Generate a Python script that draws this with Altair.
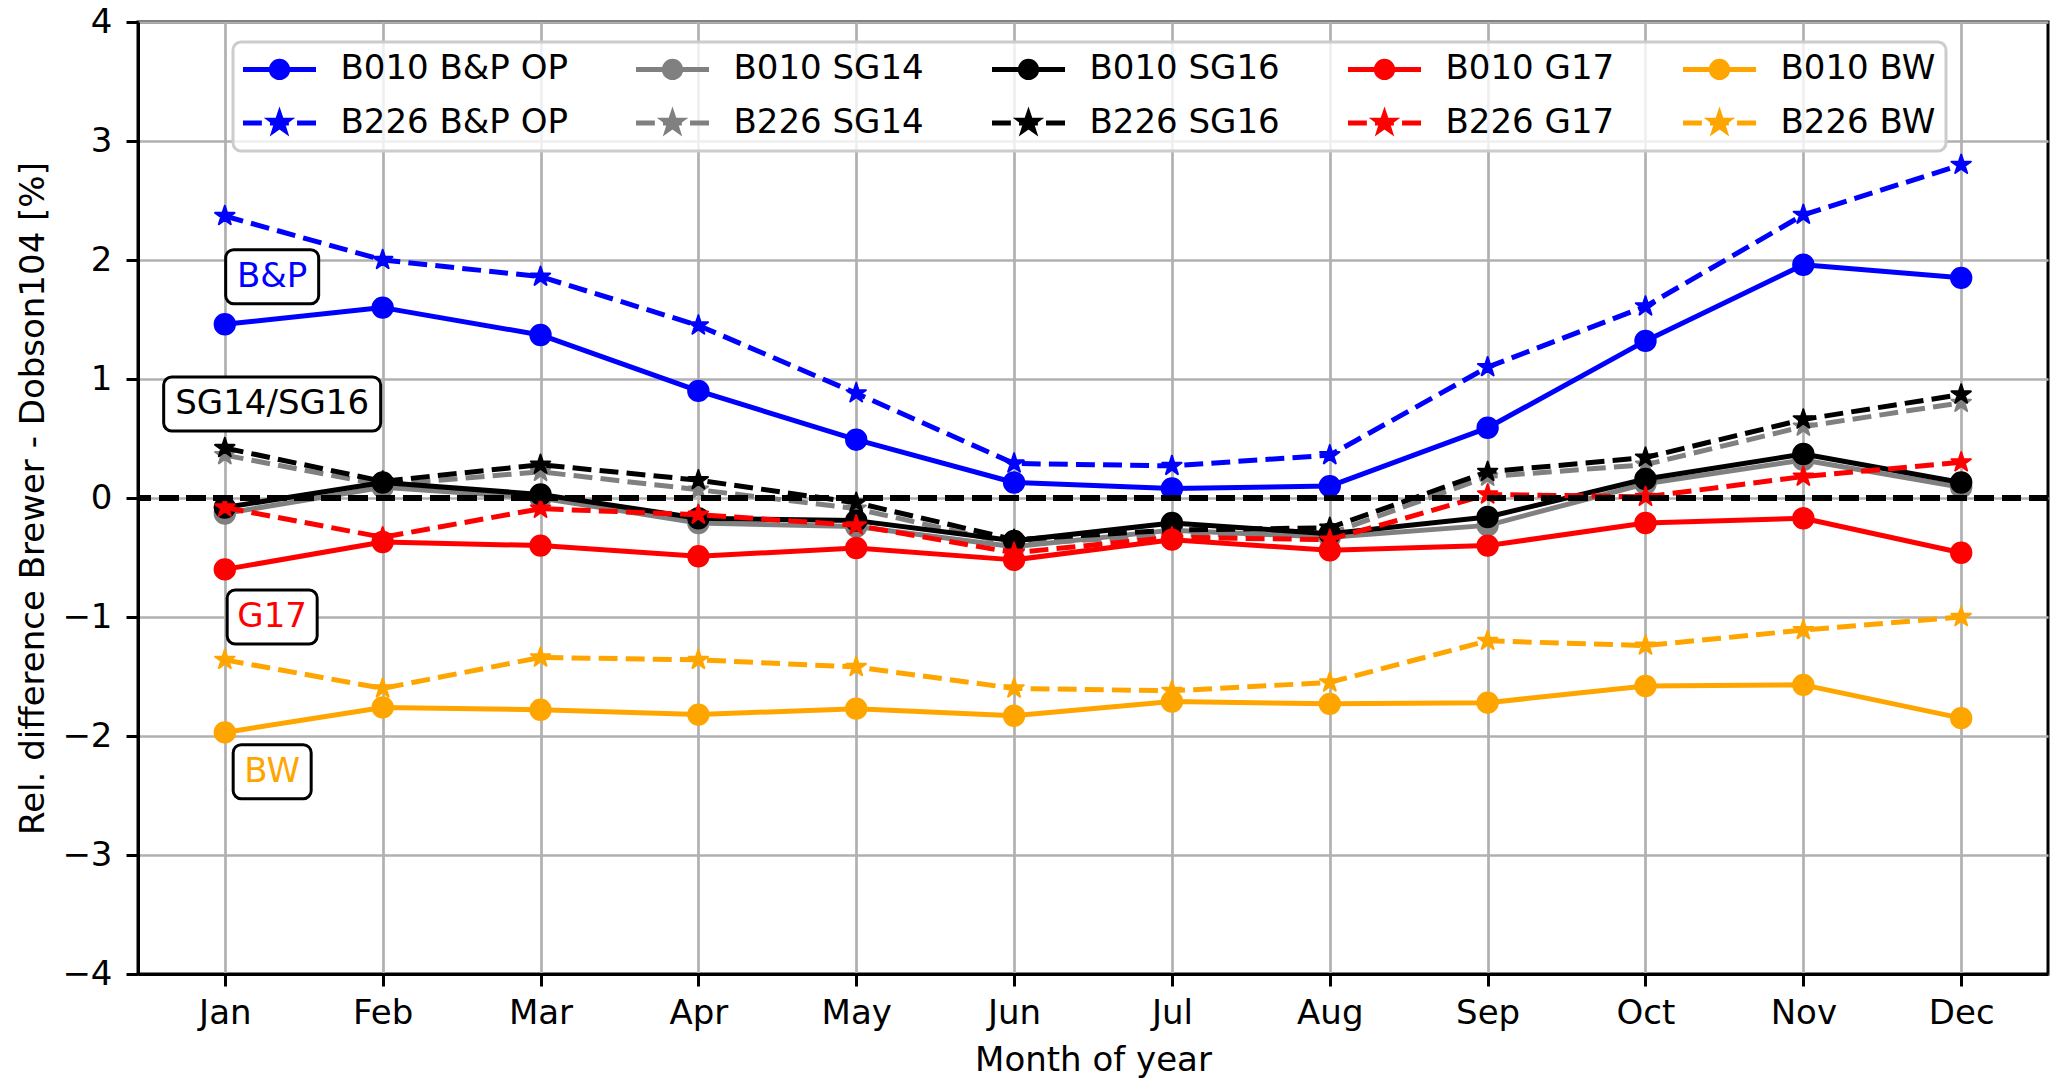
import math

import altair as alt
import pandas as pd

# --- data ---
months = ["Jan", "Feb", "Mar", "Apr", "May", "Jun",
          "Jul", "Aug", "Sep", "Oct", "Nov", "Dec"]
month_num = list(range(1, 13))

b010_bp = [1.46, 1.60, 1.37, 0.90, 0.49, 0.13, 0.08, 0.10, 0.59, 1.32, 1.96, 1.85]
b226_bp = [2.37, 2.00, 1.86, 1.45, 0.88, 0.29, 0.27, 0.36, 1.10, 1.61, 2.38, 2.80]
b010_sg14 = [-0.13, 0.09, 0.00, -0.21, -0.24, -0.41, -0.27, -0.33, -0.23, 0.12, 0.32, 0.09]
b226_sg14 = [0.36, 0.11, 0.22, 0.07, -0.09, -0.39, -0.31, -0.30, 0.18, 0.28, 0.60, 0.80]
b010_sg16 = [-0.08, 0.13, 0.03, -0.17, -0.19, -0.36, -0.21, -0.30, -0.16, 0.16, 0.37, 0.13]
b226_sg16 = [0.42, 0.14, 0.28, 0.15, -0.04, -0.35, -0.27, -0.25, 0.22, 0.34, 0.66, 0.87]
b010_g17 = [-0.60, -0.37, -0.40, -0.49, -0.42, -0.52, -0.35, -0.44, -0.40, -0.21, -0.17, -0.46]
b226_g17 = [-0.08, -0.33, -0.09, -0.14, -0.23, -0.46, -0.33, -0.35, 0.03, 0.01, 0.18, 0.30]
b010_bw = [-1.97, -1.76, -1.78, -1.82, -1.77, -1.83, -1.71, -1.73, -1.72, -1.58, -1.57, -1.85]
b226_bw = [-1.36, -1.60, -1.34, -1.36, -1.42, -1.60, -1.62, -1.55, -1.20, -1.24, -1.11, -1.00]

# plotting order (as in the original script)
series_names = ["B010 B&P OP", "B226 B&P OP", "B010 SG14", "B226 SG14",
                "B010 SG16", "B226 SG16", "B010 G17", "B226 G17",
                "B010 BW", "B226 BW"]
series_values = [b010_bp, b226_bp, b010_sg14, b226_sg14, b010_sg16,
                 b226_sg16, b010_g17, b226_g17, b010_bw, b226_bw]
series_colors = ["blue", "blue", "gray", "gray", "black", "black",
                 "red", "red", "orange", "orange"]

# box labels
note_text = ["B&P", "SG14/SG16", "G17", "BW"]
note_x = [1.3, 1.3, 1.3, 1.3]
note_y = [1.86, 0.79, -1.00, -2.30]
note_colors = ["blue", "black", "red", "orange"]

rows = []
for name, vals in zip(series_names, series_values):
    for m, v in zip(month_num, vals):
        rows.append({"series": name, "month": m, "value": v})
df = pd.DataFrame(rows)

FONT = "DejaVu Sans"
W, H = 1910, 952
DASH = [18.9, 8.2]


def star_path(r_out, r_in):
    pts = []
    for k in range(10):
        ang = math.pi / 2 + k * math.pi / 5
        r = r_out if k % 2 == 0 else r_in
        pts.append((r * math.cos(ang), -r * math.sin(ang)))
    return "M" + " L".join(f"{x:.3f},{y:.3f}" for x, y in pts) + " Z"


def circle_path(r):
    return f"M{r},0 A{r},{r} 0 1,1 {-r},0 A{r},{r} 0 1,1 {r},0 Z"


month_js = "[" + ",".join(f"'{m}'" for m in months) + "]"


def xenc(field):
    return alt.X(f"{field}:Q",
                 scale=alt.Scale(domain=[0.45, 12.55], nice=False, zero=False),
                 axis=alt.Axis(values=month_num,
                               labelExpr=f"{month_js}[datum.value - 1]",
                               title="Month of year", labelPadding=37,
                               labelBaseline="alphabetic", labelFlush=False,
                               labelOverlap=False, titleX=W / 2, titleY=96,
                               titleBaseline="alphabetic"))


def yenc(field):
    return alt.Y(f"{field}:Q",
                 scale=alt.Scale(domain=[-4, 4], nice=False, zero=False),
                 axis=alt.Axis(values=list(range(-4, 5)), format="d",
                               title="Rel. difference Brewer - Dobson104 [%]",
                               labelPadding=14, titleX=-95, titleY=H / 2,
                               titleBaseline="alphabetic", titleAngle=-90,
                               titleAlign="center"))


layers = []
for name, color in zip(series_names, series_colors):
    dashed = name.startswith("B226")
    base = alt.Chart(df).transform_filter(alt.datum.series == name)
    line_kw = dict(color=color, strokeWidth=5, strokeJoin="round")
    if dashed:
        line_kw["strokeDash"] = DASH
    layers.append(base.mark_line(**line_kw).encode(x=xenc("month"), y=yenc("value")))
    shape = star_path(1, 0.382) if dashed else "circle"
    layers.append(base.mark_point(shape=shape, size=416, filled=True, fill=color,
                                  stroke=color, strokeWidth=2, opacity=1,
                                  strokeJoin="round")
                  .encode(x=xenc("month"), y=yenc("value")))

# zero line
layers.append(alt.Chart(df).mark_rule(color="black", strokeWidth=5, strokeDash=DASH)
              .encode(y=alt.datum(0)))

# legend: a layer without rows that only carries the legend scales
# (entries fill the 5 columns top to bottom, two per column)
solid_sym = "M-3.58,0 H3.58 " + circle_path(0.8)
dash_sym = "M-3.58,0 H-1.73 M-0.93,0 H0.92 M1.72,0 H3.58 " + star_path(0.85, 0.33)
legend_shapes = [dash_sym if n.startswith("B226") else solid_sym for n in series_names]

leg = alt.Legend(title=None, orient="none", legendX=95, legendY=20, columns=5,
                 symbolSize=416, symbolStrokeWidth=5, symbolOffset=19.5,
                 labelOffset=44, labelFontSize=34, labelFont=FONT,
                 labelColor="black", labelLimit=500, rowPadding=16,
                 columnPadding=57, padding=10,
                 fillColor="rgba(255,255,255,0.8)", strokeColor="#cccccc",
                 cornerRadius=8)
legend_layer = alt.Chart(df).transform_filter("false").mark_point(
    filled=True, size=416, opacity=1, strokeWidth=5
).encode(
    x=xenc("month"), y=yenc("value"),
    fill=alt.Fill("series:N", scale=alt.Scale(domain=series_names, range=series_colors), legend=leg),
    stroke=alt.Stroke("series:N", scale=alt.Scale(domain=series_names, range=series_colors), legend=leg),
    shape=alt.Shape("series:N", scale=alt.Scale(domain=series_names, range=legend_shapes), legend=leg),
)
layers.append(legend_layer)

# boxed labels
box_w = {"B&P": 93, "SG14/SG16": 217, "G17": 90, "BW": 78}
notes = pd.DataFrame({"label": note_text, "month": note_x, "value": note_y,
                      "tcolor": note_colors})
for lab in note_text:
    w = box_w[lab]
    nb = alt.Chart(notes).transform_filter(alt.datum.label == lab)
    layers.append(nb.mark_rect(fill="white", stroke="black", strokeWidth=3,
                               cornerRadius=8, xOffset=-w / 2, x2Offset=w / 2,
                               yOffset=-27, y2Offset=27)
                  .encode(x=xenc("month"), x2="month:Q", y=yenc("value"), y2="value:Q"))
layers.append(alt.Chart(notes).mark_text(fontSize=34, font=FONT, align="center",
                                         baseline="middle")
              .encode(x=xenc("month"), y=yenc("value"), text="label:N",
                      color=alt.Color("tcolor:N", scale=None)))

chart = alt.layer(*layers).properties(
    width=W, height=H,
    autosize=alt.AutoSizeParams(type="none"),
    padding={"left": 130, "top": 14, "right": 11, "bottom": 107},
).configure_view(
    stroke="black", strokeWidth=3
).configure_axis(
    labelFont=FONT, labelFontSize=34, labelColor="black",
    titleFont=FONT, titleFontSize=34, titleFontWeight="normal", titleColor="black",
    tickColor="black", tickWidth=3, tickSize=12,
    domainColor="black", domainWidth=3,
    gridColor="#b0b0b0", gridWidth=2.7,
).configure_legend(strokeWidth=3)

chart.save("out.html", embed_options={"renderer": "svg", "actions": False})
